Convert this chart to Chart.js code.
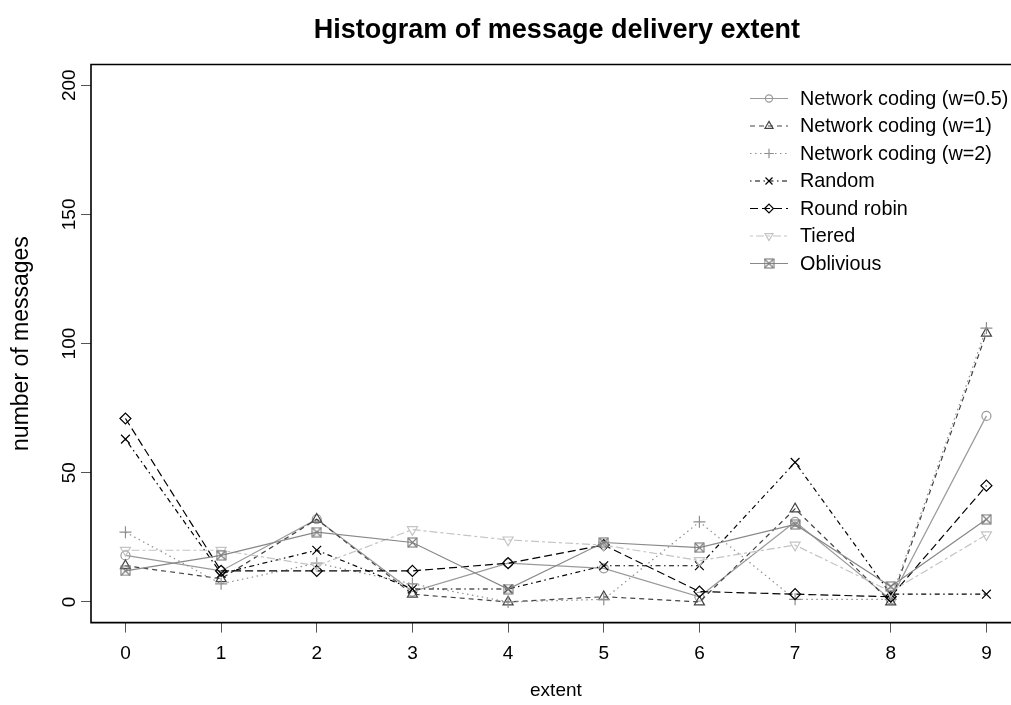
<!DOCTYPE html>
<html>
<head>
<meta charset="utf-8">
<title>Histogram of message delivery extent</title>
<script src="https://cdn.jsdelivr.net/npm/chart.js@4/dist/chart.umd.min.js"></script>
<style>
  html, body { margin: 0; padding: 0; background: #fff; overflow: hidden; width: 1011px; height: 705px; }
  #wrap { position: absolute; left: 0; top: 0; width: 1011px; height: 705px; }
</style>
</head>
<body>
<div id="wrap"><canvas id="c" width="1011" height="705"></canvas></div>
<script>
// Categories and tick labels
const extents = [0, 1, 2, 3, 4, 5, 6, 7, 8, 9];
const yTicks = [0, 50, 100, 150, 200];
const chartTitle = 'Histogram of message delivery extent';
const xTitle = 'extent';
const yTitle = 'number of messages';

// Series values (number of messages per extent)
const ncHalf   = [18, 12, 32, 4, 15, 13, 2, 31, 1, 72];
const ncOne    = [14, 9, 32, 3, 0, 2, 0, 36, 0, 104];
const ncTwo    = [27, 7, 15, 7, 0, 1, 31, 1, 1, 106];
const random   = [63, 11, 20, 5, 5, 14, 14, 54, 3, 3];
const roundRob = [71, 12, 12, 12, 15, 22, 4, 3, 2, 45];
const tiered   = [20, 20, 14, 28, 24, 22, 16, 22, 4, 26];
const oblivious= [12, 18, 27, 23, 5, 23, 21, 30, 6, 32];

const FONT = '"Liberation Sans", Arial, Helvetica, sans-serif';

// Open square with an X inside, used as a point marker
function boxedCross(color) {
  const c = document.createElement('canvas');
  c.width = 11; c.height = 11;
  const g = c.getContext('2d');
  g.strokeStyle = color; g.lineWidth = 1.1;
  g.strokeRect(1, 1, 9, 9);
  g.beginPath();
  g.moveTo(1, 1); g.lineTo(10, 10);
  g.moveTo(10, 1); g.lineTo(1, 10);
  g.stroke();
  return c;
}

function series(label, values, color, dash, style, radius, rotation, order) {
  return {
    label,
    data: values.map((v, i) => ({ x: extents[i], y: v })),
    borderColor: color,
    borderWidth: 1.2,
    borderDash: dash,
    pointStyle: style,
    pointRadius: radius,
    pointHoverRadius: radius,
    pointRotation: rotation,
    pointBorderColor: color,
    pointBackgroundColor: 'rgba(0,0,0,0)',
    pointBorderWidth: 1.2,
    tension: 0,
    fill: false,
    order
  };
}

const datasets = [
  series('Network coding (w=0.5)', ncHalf,   '#9a9a9a', [],                 'circle',   4.5, 0,   7),
  series('Network coding (w=1)',   ncOne,    '#444444', [5, 4],             'triangle', 5.8, 0,   6),
  series('Network coding (w=2)',   ncTwo,    '#8f8f8f', [1.5, 3.5],         'cross',    6,   0,   5),
  series('Random',                 random,   '#000000', [1.5, 3.5, 5, 3.5], 'crossRot', 6.2, 0,   4),
  series('Round robin',            roundRob, '#000000', [8, 4],             'rectRot',  5.5, 0,   3),
  series('Tiered',                 tiered,   '#c4c4c4', [3, 3, 8, 3],       'triangle', 5.8, 180, 2),
  series('Oblivious',              oblivious,'#888888', [],                 boxedCross('#7a7a7a'), 5, 0, 1)
];

// Frame, axis labels, title and legend drawn in the base-graphics style
const decorations = {
  id: 'decorations',
  afterDraw(chart) {
    const { ctx, chartArea: a, scales: { x, y } } = chart;
    // full plot-region width (the frame runs past the right edge of the canvas)
    const frameRight = x.getPixelForValue(9.36);
    const midX = (a.left + frameRight) / 2;
    ctx.save();
    ctx.strokeStyle = '#000';
    ctx.lineWidth = 1.6;
    ctx.setLineDash([]);
    ctx.beginPath();
    ctx.moveTo(frameRight, a.top);
    ctx.lineTo(a.left, a.top);
    ctx.lineTo(a.left, a.bottom);
    ctx.lineTo(frameRight, a.bottom);
    ctx.stroke();

    ctx.fillStyle = '#000';
    ctx.textAlign = 'center';
    ctx.textBaseline = 'middle';
    ctx.font = '19px ' + FONT;
    extents.forEach(v => ctx.fillText(String(v), x.getPixelForValue(v), a.bottom + 31));
    yTicks.forEach(v => {
      ctx.save();
      ctx.translate(a.left - 21, y.getPixelForValue(v));
      ctx.rotate(-Math.PI / 2);
      ctx.fillText(String(v), 0, 0);
      ctx.restore();
    });
    ctx.fillText(xTitle, midX, a.bottom + 68);
    ctx.save();
    ctx.font = '23px ' + FONT;
    ctx.translate(22, (a.top + a.bottom) / 2);
    ctx.rotate(-Math.PI / 2);
    ctx.fillText(yTitle, 0, 0);
    ctx.restore();

    ctx.font = 'bold 27px ' + FONT;
    ctx.fillText(chartTitle, midX + 1, 31);

    // legend (no box)
    ctx.textAlign = 'left';
    ctx.font = '19.8px ' + FONT;
    chart.data.datasets.forEach((d, i) => {
      const ly = 98.5 + i * 27.5;
      ctx.strokeStyle = d.borderColor;
      ctx.lineWidth = d.borderWidth;
      ctx.setLineDash(d.borderDash);
      ctx.beginPath();
      ctx.moveTo(750, ly);
      ctx.lineTo(788, ly);
      ctx.stroke();
      ctx.setLineDash([]);
      ctx.fillStyle = 'rgba(0,0,0,0)';
      ctx.strokeStyle = d.pointBorderColor;
      Chart.helpers.drawPoint(ctx, {
        pointStyle: d.pointStyle,
        rotation: d.pointRotation,
        radius: d.pointRadius * 0.8,
        borderWidth: d.pointBorderWidth
      }, 769, ly);
      ctx.fillStyle = '#000';
      ctx.fillText(d.label, 800, ly + 1);
    });
    ctx.restore();
  }
};

new Chart(document.getElementById('c'), {
  type: 'line',
  data: { datasets },
  options: {
    responsive: false,
    animation: false,
    events: [],
    layout: { autoPadding: false, padding: { top: 64.5, right: 0, left: 0, bottom: 0 } },
    plugins: { legend: { display: false }, tooltip: { enabled: false }, title: { display: false } },
    scales: {
      x: {
        type: 'linear',
        min: -0.36,
        max: 9.257,
        afterBuildTicks: s => { s.ticks = extents.map(v => ({ value: v })); },
        afterFit: s => { s.height = 82.4; s.paddingLeft = 0; s.paddingRight = 0; },
        ticks: { display: false },
        border: { display: false },
        grid: { display: true, drawOnChartArea: false, drawTicks: true, tickLength: 10, color: '#555', lineWidth: 1 }
      },
      y: {
        type: 'linear',
        min: -8,
        max: 208,
        afterBuildTicks: s => { s.ticks = yTicks.map(v => ({ value: v })); },
        afterFit: s => { s.width = 91; s.paddingTop = 0; s.paddingBottom = 0; },
        ticks: { display: false },
        border: { display: false },
        grid: { display: true, drawOnChartArea: false, drawTicks: true, tickLength: 10, color: '#555', lineWidth: 1 }
      }
    }
  },
  plugins: [decorations]
});
</script>
</body>
</html>
